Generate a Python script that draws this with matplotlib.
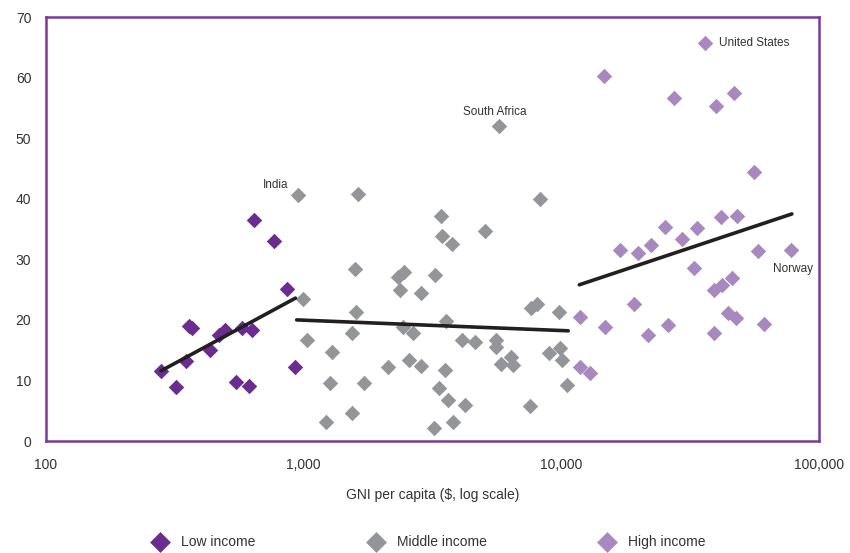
import numpy as np
import matplotlib.pyplot as plt
from matplotlib.ticker import FuncFormatter

# GNI per capita ($) and share values
low_gni = [280, 321, 351, 359, 368, 435, 468, 497, 548, 577, 612, 631, 641, 771, 864, 923]
low_val = [11.6, 8.9, 13.2, 19.0, 18.7, 15.1, 17.5, 18.3, 9.8, 18.6, 9.1, 18.3, 36.5, 33.1, 25.1, 12.3]

mid_gni = [948, 997, 1033, 1218, 1263, 1294, 1547, 1547, 1578, 1593, 1626, 1716,
           2128, 2316, 2371, 2421, 2456, 2570, 2648, 2852, 2860, 3214, 3226, 3342,
           3413, 3435, 3548, 3572, 3642, 3767, 3810, 4120, 4245, 4617, 5046, 5590,
           5600, 5740, 5845, 6385, 6490, 7570, 7640, 8070, 8260, 9000, 9800, 9930,
           10070, 10520]
mid_val = [40.6, 23.4, 16.6, 3.2, 9.5, 14.7, 17.9, 4.7, 28.4, 21.3, 40.8, 9.5,
           12.3, 27.1, 25.0, 18.9, 27.95, 13.4, 17.8, 12.4, 24.4, 2.1, 27.4, 8.7,
           37.1, 33.9, 11.8, 19.9, 6.8, 32.5, 3.2, 16.6, 5.9, 16.3, 34.7, 15.6,
           16.6, 52.0, 12.8, 13.9, 12.5, 5.8, 21.9, 22.7, 39.9, 14.5, 21.3, 15.3,
           13.4, 9.2]

high_gni = [11780, 11780, 12970, 14600, 14730, 16860, 19120, 19870, 21730, 22260,
            25240, 26000, 27350, 29490, 32700, 33730, 36100, 39270, 39270, 40000,
            41560, 41900, 44540, 46150, 46600, 47540, 47970, 56000, 58210, 61250, 78000]
high_val = [20.5, 12.3, 11.3, 60.3, 18.8, 31.6, 22.7, 31.0, 17.5, 32.4,
            35.3, 19.2, 56.7, 33.3, 28.5, 35.1, 65.8, 24.9, 17.8, 55.4,
            37.0, 25.8, 21.1, 26.9, 57.5, 20.3, 37.2, 44.4, 31.4, 19.4, 31.5]

# trend segments (start, end) per income group
low_trend_x = [280, 930]
low_trend_y = [11.6, 23.6]
mid_trend_x = [940, 10640]
mid_trend_y = [20.0, 18.2]
high_trend_x = [11750, 78500]
high_trend_y = [25.8, 37.5]

labels = {"India": (948, 40.6), "South Africa": (5740, 52.0),
          "United States": (36100, 65.8), "Norway": (78000, 31.5)}

c_low = '#6b2c8f'
c_mid = '#939598'
c_high = '#a889bf'
c_frame = '#7a3a9c'
txt = '#333333'

plt.rcParams['font.family'] = ['Liberation Sans', 'DejaVu Sans']

fig = plt.figure(figsize=(8.5, 5.53), dpi=100)
ax = fig.add_axes([0.054, 0.2025, 0.9095, 0.7665])

ax.scatter(low_gni, low_val, marker='D', s=62, color=c_low, linewidths=0, zorder=3, label='Low income')
ax.scatter(mid_gni, mid_val, marker='D', s=62, color=c_mid, linewidths=0, zorder=3, label='Middle income')
ax.scatter(high_gni, high_val, marker='D', s=62, color=c_high, linewidths=0, zorder=3, label='High income')

for tx, ty in [(low_trend_x, low_trend_y), (mid_trend_x, mid_trend_y), (high_trend_x, high_trend_y)]:
    ax.plot(tx, ty, color='#231f20', lw=2.6, solid_capstyle='round', zorder=4)

ax.set_xscale('log')
ax.set_xlim(100, 100000)
ax.set_ylim(0, 70)
ax.set_yticks(range(0, 71, 10))
ax.set_xticks([100, 1000, 10000, 100000])
ax.minorticks_off()
ax.xaxis.set_major_formatter(FuncFormatter(lambda v, p: f'{int(v):,}'))
ax.tick_params(axis='both', length=0, colors=txt)
ax.tick_params(axis='y', pad=10.5, labelsize=10)
ax.tick_params(axis='x', pad=12, labelsize=10)
for sp in ax.spines.values():
    sp.set_color(c_frame)
    sp.set_linewidth(1.8)

ax.set_xlabel('GNI per capita ($, log scale)', fontsize=10, color=txt, labelpad=12)

ax.annotate('India', labels['India'], xytext=(-7, 3), textcoords='offset points',
            ha='right', va='bottom', fontsize=8.5, color=txt)
ax.annotate('South Africa', labels['South Africa'], xytext=(-3, 6), textcoords='offset points',
            ha='center', va='bottom', fontsize=8.5, color=txt)
ax.annotate('United States', labels['United States'], xytext=(10, 0), textcoords='offset points',
            ha='left', va='center', fontsize=8.5, color=txt)
ax.annotate('Norway', labels['Norway'], xytext=(1, -9), textcoords='offset points',
            ha='center', va='top', fontsize=8.5, color=txt)

leg = fig.legend(loc='center', bbox_to_anchor=(0.501, 0.02), ncol=3, frameon=False,
                 markerscale=1.35, handletextpad=0.5, columnspacing=7.7,
                 prop={'size': 10})
for t in leg.get_texts():
    t.set_color(txt)

fig.savefig('out.png', dpi=100)
